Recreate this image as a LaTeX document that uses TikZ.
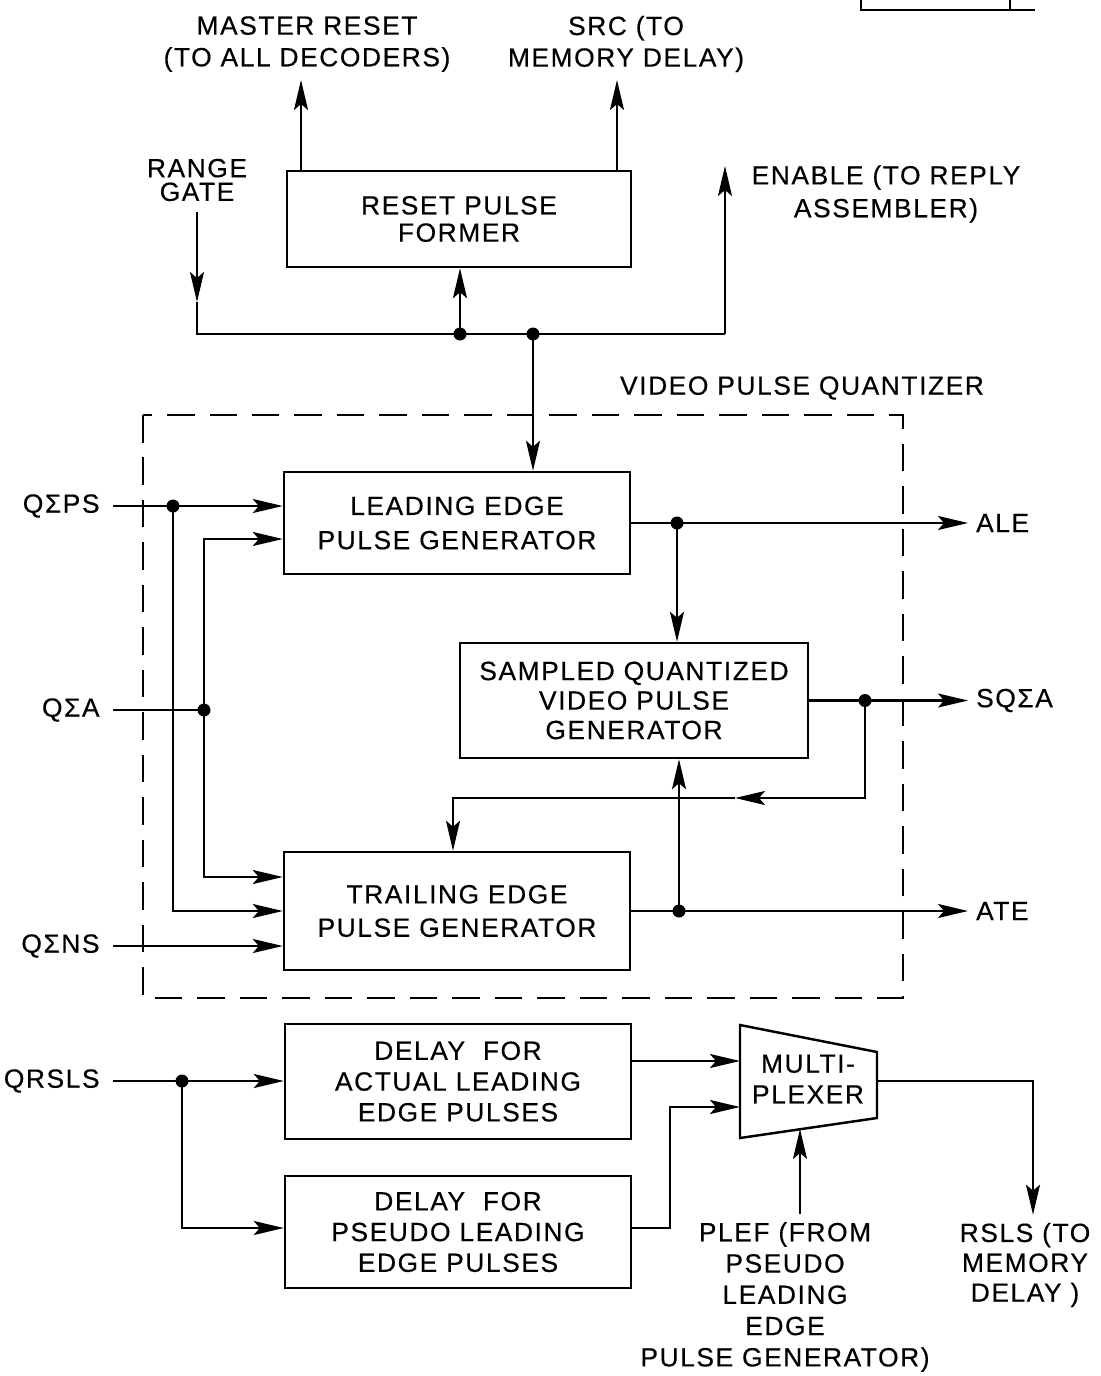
\documentclass[tikz,border=0pt]{standalone}
\usepackage{fontspec}
\setmainfont{Liberation Sans}[LetterSpace=6.0,FakeBold=0.4]
\usetikzlibrary{arrows.meta}

\begin{document}
\begin{tikzpicture}[x=0.02cm,y=-0.02cm,line width=1.3pt,
		>={Stealth[length=0.6cm,width=0.28cm,inset=0.12cm]},
		block/.style={draw,line width=1.4pt,align=center,inner sep=0pt,font=\fontsize{15}{17.5}\selectfont},
		lbl/.style={align=center,inner sep=0pt,font=\fontsize{15}{17.5}\selectfont},
		dot/.style={circle,fill,inner sep=0pt,minimum size=0.26cm}]
			\useasboundingbox (0,0) rectangle (1101,1376);
			
			% blocks
			\node[block,minimum width=6.88cm,minimum height=1.92cm,font=\fontsize{15}{15.5}\selectfont] (rpf) at (459,219) {RESET PULSE\\FORMER};
			\node[block,minimum width=6.92cm,minimum height=2.04cm,font=\fontsize{15}{19.5}\selectfont] (le) at (457,523) {LEADING EDGE\\PULSE GENERATOR};
			\node[block,minimum width=6.96cm,minimum height=2.3cm,font=\fontsize{15}{16.8}\selectfont] (sq) at (634,700.5) {SAMPLED QUANTIZED\\VIDEO PULSE\\GENERATOR};
			\node[block,minimum width=6.92cm,minimum height=2.36cm,font=\fontsize{15}{19}\selectfont] (te) at (457,911) {TRAILING EDGE\\PULSE GENERATOR};
			\node[block,minimum width=6.92cm,minimum height=2.3cm] (dal) at (458,1081.5) {DELAY \ FOR\\ACTUAL LEADING\\EDGE PULSES};
			\node[block,minimum width=6.92cm,minimum height=2.24cm] (dpl) at (458,1232) {DELAY \ FOR\\PSEUDO LEADING\\EDGE PULSES};
			
			% multiplexer
			\coordinate (muxtl) at (740,1025);
			\coordinate (muxtr) at (877,1052);
			\coordinate (muxbr) at (877,1118);
			\coordinate (muxbl) at (740,1138);
			\draw[line width=1.4pt] (muxtl) -- (muxtr) -- (muxbr) -- (muxbl) -- cycle;
			\node[lbl] (mux) at (808,1079) {MULTI-\\PLEXER};
			
			% labels
			\node[lbl,font=\fontsize{15}{18}\selectfont] (mrlbl) at (307,44) {MASTER RESET\\(TO ALL DECODERS)};
			\node[lbl,font=\fontsize{15}{18}\selectfont] (srclbl) at (626,44) {SRC (TO\\MEMORY DELAY)};
			\node[lbl,font=\fontsize{15}{13.5}\selectfont,inner sep=0.2cm] (rglbl) at (197,180) {RANGE\\GATE};
			\node[lbl,font=\fontsize{15}{18.7}\selectfont] (enlbl) at (886,194) {ENABLE (TO REPLY\\ASSEMBLER)};
			\node[lbl] (vpq) at (802,388) {VIDEO PULSE QUANTIZER};
			\node[lbl,anchor=east,inner xsep=7pt] (qps) at (113,506) {QΣPS};
			\node[lbl,anchor=east,inner xsep=7pt] (qa) at (113,710) {QΣA};
			\node[lbl,anchor=east,inner xsep=7pt] (qns) at (113,946) {QΣNS};
			\node[lbl,anchor=east,inner xsep=7pt] (qrsls) at (113,1081) {QRSLS};
			\node[lbl,anchor=west,inner xsep=4pt] (alelbl) at (968,523) {ALE};
			\node[lbl,anchor=west,inner xsep=4pt] (sqlbl) at (968,700.5) {SQΣA};
			\node[lbl,anchor=west,inner xsep=4pt] (atelbl) at (968,911) {ATE};
			\node[lbl,inner ysep=4pt,font=\fontsize{15}{17.8}\selectfont] (plef) at (785,1297) {PLEF (FROM\\PSEUDO\\LEADING\\EDGE\\PULSE GENERATOR)};
			\node[lbl,inner ysep=4pt,font=\fontsize{15}{17}\selectfont] (rsls) at (1025,1265) {RSLS (TO\\MEMORY\\DELAY )};
			
			% junctions
			\foreach \n/\x/\y in {j1/460/334,j2/533/334,d1/173/506,d2/204/710,d3/677/523,d4/865/700.5,d5/679/911,d6/182/1081}
			\node[dot] (\n) at (\x,\y) {};
			
			% corners and free ends
			\coordinate (mr) at (301,80);
			\coordinate (src) at (617,80);
			\coordinate (rgtip) at (197,302);
			\coordinate (busl) at (197,334);
			\coordinate (busr) at (725,334);
			\coordinate (en) at (725,166);
			\coordinate (c1) at (173,911);
			\coordinate (c2t) at (204,539);
			\coordinate (c2b) at (204,877);
			\coordinate (fbr) at (865,798);
			\coordinate (fbtip) at (735,798);
			\coordinate (fbl) at (453,798);
			\coordinate (c6) at (182,1228);
			\coordinate (c7) at (670,1228);
			\coordinate (muxa) at (740,1061);
			\coordinate (muxb) at (740,1107);
			\coordinate (muxo) at (877,1081);
			\coordinate (muxc) at (800,1129);
			\coordinate (rslsc) at (1033,1081);
			
			% reset pulse former
			\draw[->] (rpf.north -| mr) -- (mr);
			\draw[->] (rpf.north -| src) -- (src);
			\draw[->] (rglbl.south) -- (rgtip);
			\draw (rgtip) -- (busl) -- (busr);
			\draw[->] (busr) -- (en);
			\draw[->] (j1.center) -- (j1.center |- rpf.south);
			\draw[->] (j2.center) -- (j2.center |- le.north);
			
			% video pulse quantizer
			\draw[dash pattern=on 0.55cm off 0.3cm] (143,415) rectangle (903,998);
			\draw[->] (qps.east) -- (qps.east -| le.west);
			\draw[->] (d1.center) -- (c1) -- (c1 -| te.west);
			\draw (qa.east) -- (d2.center);
			\draw[->] (d2.center) -- (c2t) -- (c2t -| le.west);
			\draw[->] (d2.center) -- (c2b) -- (c2b -| te.west);
			\draw[->] (qns.east) -- (qns.east -| te.west);
			\draw[->] (le.east) -- (le.east -| alelbl.west);
			\draw[->] (d3.center) -- (d3.center |- sq.north);
			\draw[->] (sq.east) -- (sq.east -| sqlbl.west);
			\draw[->] (d4.center) -- (fbr) -- (fbtip);
			\draw[->] (fbtip) -- (fbl) -- (fbl |- te.north);
			\draw[->] (te.east) -- (te.east -| atelbl.west);
			\draw[->] (d5.center) -- (d5.center |- sq.south);
			
			% delays and multiplexer
			\draw[->] (qrsls.east) -- (qrsls.east -| dal.west);
			\draw[->] (d6.center) -- (c6) -- (c6 -| dpl.west);
			\draw[->] (muxa -| dal.east) -- (muxa);
			\draw[->] (c7 -| dpl.east) -- (c7) -- (c7 |- muxb) -- (muxb);
			\draw[->] (muxo) -- (rslsc) -- (rslsc |- rsls.north);
			\draw[->] (plef.north -| muxc) -- (muxc);
			
			% edge of the next figure
			\draw[line width=0.8pt] (861,0) -- (861,10) -- (1035,10);
			\draw[line width=0.8pt] (1010,0) -- (1010,10);
\end{tikzpicture}
\end{document}
